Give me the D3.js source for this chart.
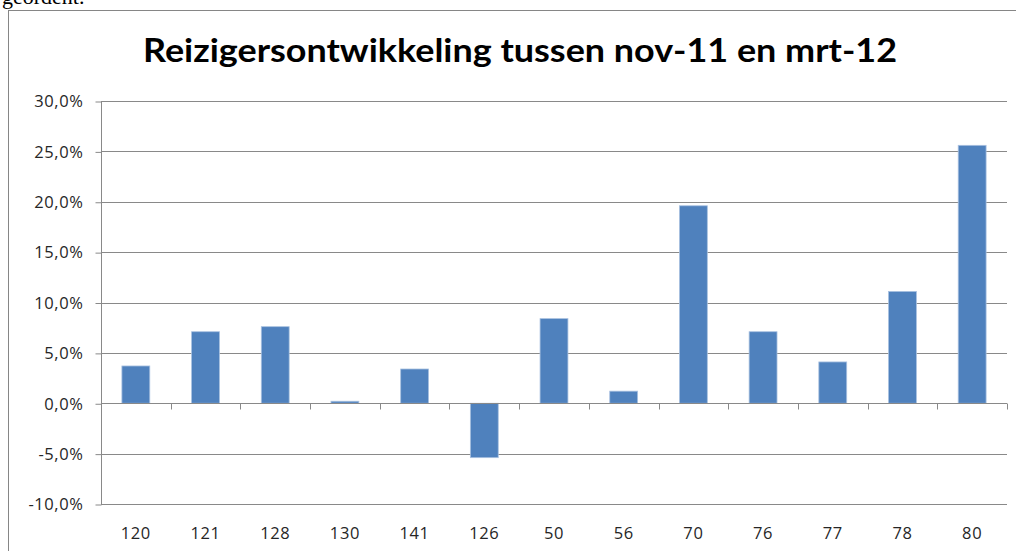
<!DOCTYPE html>
<html>
<head>
<meta charset="utf-8">
<script src="https://cdn.jsdelivr.net/npm/d3@7"></script>
<style>
  html, body { margin: 0; padding: 0; background: #fff; }
  svg { display: block; }
</style>
</head>
<body>
<div id="chart"></div>
<script>
var lines = ["120", "121", "128", "130", "141", "126", "50", "56", "70", "76", "77", "78", "80"];
var growth = [3.7, 7.1, 7.6, 0.2, 3.4, -5.4, 8.4, 1.2, 19.6, 7.1, 4.1, 11.1, 25.6];
var yTicks = [-10, -5, 0, 5, 10, 15, 20, 25, 30];
var title = "Reizigersontwikkeling tussen nov-11 en mrt-12";

var width = 1016, height = 551;
var margin = {top: 101, right: 9, bottom: 47, left: 101};

var svg = d3.select("#chart").append("svg")
    .attr("width", width)
    .attr("height", height);

// stukje tekst van de pagina erboven
svg.append("text")
    .attr("x", 2)
    .attr("y", 4)
    .style("font-family", "'Liberation Serif', serif")
    .style("font-size", "22px")
    .style("fill", "#000")
    .text("geordent.");

// kader van de grafiek
svg.append("rect")
    .attr("x", 8.5)
    .attr("y", 10.5)
    .attr("width", 1030)
    .attr("height", 560)
    .style("fill", "none")
    .style("stroke", "#868686");

svg.append("text")
    .attr("x", 520)
    .attr("y", 62)
    .attr("text-anchor", "middle")
    .attr("textLength", 754)
    .attr("lengthAdjust", "spacingAndGlyphs")
    .style("font-family", "Lato, sans-serif")
    .style("font-weight", "bold")
    .style("font-size", "32px")
    .style("fill", "#000")
    .text(title);

var x = d3.scaleBand()
    .domain(lines)
    .range([margin.left, width - margin.right])
    .paddingInner(0.6)
    .paddingOuter(0.3);

var y = d3.scaleLinear()
    .domain([-10, 30])
    .range([height - margin.bottom, margin.top]);

var fmt = function(d) { return d.toFixed(1).replace(".", ",") + "%"; };
var grey = "#898989";

// horizontale rasterlijnen
svg.append("g")
  .selectAll("line")
    .data(yTicks)
  .enter().append("line")
    .attr("x1", margin.left)
    .attr("x2", width - margin.right)
    .attr("y1", function(d) { return Math.round(y(d)) + 0.5; })
    .attr("y2", function(d) { return Math.round(y(d)) + 0.5; })
    .style("stroke", grey);

var yAxis = d3.axisLeft(y)
    .tickValues(yTicks)
    .tickFormat(fmt)
    .tickSize(6)
    .tickPadding(12);

var gy = svg.append("g")
    .attr("class", "y axis")
    .attr("transform", "translate(" + (margin.left + 0.5) + ",0.5)")
    .call(yAxis);
gy.select(".domain").remove();
gy.append("line")
    .attr("y1", y(30))
    .attr("y2", y(-10))
    .style("stroke", grey);
gy.selectAll(".tick line").style("stroke", grey);
gy.selectAll(".tick text")
    .style("font-family", "'Open Sans', sans-serif")
    .style("font-size", "16.5px")
    .style("letter-spacing", "0.6px")
    .style("fill", "#262626");

// staven
svg.append("g")
  .selectAll(".bar")
    .data(growth)
  .enter().append("rect")
    .attr("class", "bar")
    .attr("x", function(d, i) { return x(lines[i]); })
    .attr("width", x.bandwidth())
    .attr("y", function(d) { return y(Math.max(0, d)); })
    .attr("height", function(d) { return Math.abs(y(d) - y(0)); })
    .style("fill", "#4f81bd")
    .style("stroke", "#a9c1e0")
    .style("stroke-width", 0.8);

// x-as op nul met streepjes tussen de categorieen
var y0 = Math.round(y(0)) + 0.5;
var gx = svg.append("g").attr("class", "x axis");
gx.append("line")
    .attr("x1", margin.left)
    .attr("x2", width - margin.right)
    .attr("y1", y0)
    .attr("y2", y0)
    .style("stroke", grey);
gx.selectAll(".cat-tick")
    .data(d3.range(1, lines.length + 1))
  .enter().append("line")
    .attr("class", "cat-tick")
    .attr("x1", function(i) { return Math.round(margin.left + i * x.step()) + 0.5; })
    .attr("x2", function(i) { return Math.round(margin.left + i * x.step()) + 0.5; })
    .attr("y1", y0)
    .attr("y2", y0 + 6)
    .style("stroke", grey);

svg.append("g")
  .selectAll("text")
    .data(lines)
  .enter().append("text")
    .attr("x", function(d) { return x(d) + x.bandwidth() / 2; })
    .attr("y", 539)
    .attr("text-anchor", "middle")
    .style("font-family", "'Open Sans', sans-serif")
    .style("font-size", "16.5px")
    .style("letter-spacing", "0.6px")
    .style("fill", "#262626")
    .text(function(d) { return d; });
</script>
</body>
</html>
